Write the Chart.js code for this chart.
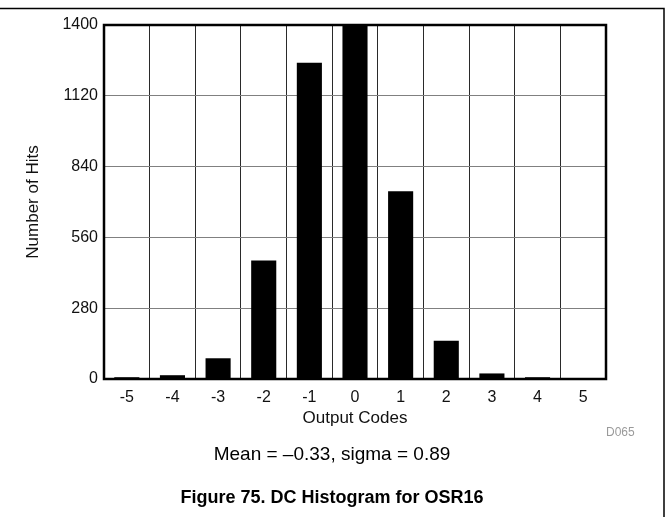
<!DOCTYPE html>
<html>
<head>
<meta charset="utf-8">
<script src="https://cdn.jsdelivr.net/npm/chart.js@4"></script>
<style>
  body { margin: 0; background: #fff; }
  #wrap { position: relative; width: 669px; height: 517px; font-family: "Liberation Sans", Arial, sans-serif; }
  #histChart { position: absolute; left: 0; top: 0; }
  .note { position: absolute; white-space: nowrap; color: #000; }
  #stats { left: 0; width: 664px; top: 443px; text-align: center; font-size: 19px; }
  #caption { left: 0; width: 664px; top: 487px; text-align: center; font-size: 18px; font-weight: bold; }
  #code { left: 606px; top: 425px; font-size: 12px; color: #9a9a9a; }
</style>
</head>
<body>
<div id="wrap">
  <canvas id="histChart" width="669" height="517"></canvas>
  <div class="note" id="code">D065</div>
  <div class="note" id="stats">Mean = &ndash;0.33, sigma = 0.89</div>
  <div class="note" id="caption">Figure 75. DC Histogram for OSR16</div>
</div>
<script>
// histogram data
const codes = ["-5", "-4", "-3", "-2", "-1", "0", "1", "2", "3", "4", "5"];
const hits = [7, 15, 82, 469, 1251, 1420, 743, 151, 22, 7, 4];
const yMin = 0;
const yMax = 1400;
const yStep = 280;

// box around plot area + the page frame lines
const framePlugin = {
  id: "frame",
  afterDatasetsDraw(chart) {
    const { ctx, chartArea } = chart;
    ctx.save();
    ctx.strokeStyle = "#000";
    ctx.lineWidth = 2.5;
    ctx.strokeRect(chartArea.left, chartArea.top, chartArea.right - chartArea.left, chartArea.bottom - chartArea.top);
    ctx.lineWidth = 1.5;
    ctx.beginPath();
    ctx.moveTo(0, 8.5);
    ctx.lineTo(664, 8.5);
    ctx.lineTo(664, 517);
    ctx.stroke();
    ctx.restore();
  },
};

const tickFont = { family: "'Liberation Sans', Arial, sans-serif", size: 16 };
const titleFont = { family: "'Liberation Sans', Arial, sans-serif", size: 17 };

const ctx = document.getElementById("histChart").getContext("2d");
new Chart(ctx, {
  type: "bar",
  data: {
    labels: codes,
    datasets: [
      {
        label: "Number of Hits",
        data: hits,
        backgroundColor: "#000",
        borderWidth: 0,
        barPercentage: 0.55,
        categoryPercentage: 1,
      },
    ],
  },
  options: {
    responsive: false,
    animation: false,
    layout: { padding: { left: 0, top: 25, right: 63, bottom: 88 } },
    plugins: {
      legend: { display: false },
      tooltip: { enabled: false },
    },
    scales: {
      x: {
        grid: { color: "#2a2a2a", lineWidth: 1, drawTicks: false, offset: true },
        border: { display: false },
        ticks: { color: "#111", font: tickFont, padding: 9 },
        title: {
          display: true,
          text: "Output Codes",
          color: "#111",
          font: titleFont,
          padding: 0,
        },
        afterFit: (scale) => {
          scale.height = 50;
        },
      },
      y: {
        min: yMin,
        max: yMax,
        grid: { color: "#808080", lineWidth: 1, drawTicks: false },
        border: { display: false },
        ticks: {
          stepSize: yStep,
          color: "#111",
          font: tickFont,
          padding: 6,
          callback: (value) => String(value),
        },
        title: {
          display: true,
          text: "Number of Hits",
          color: "#111",
          font: titleFont,
          padding: { top: 23, bottom: 0 },
        },
        afterFit: (scale) => {
          scale.width = 104;
        },
      },
    },
  },
  plugins: [framePlugin],
});
</script>
</body>
</html>
